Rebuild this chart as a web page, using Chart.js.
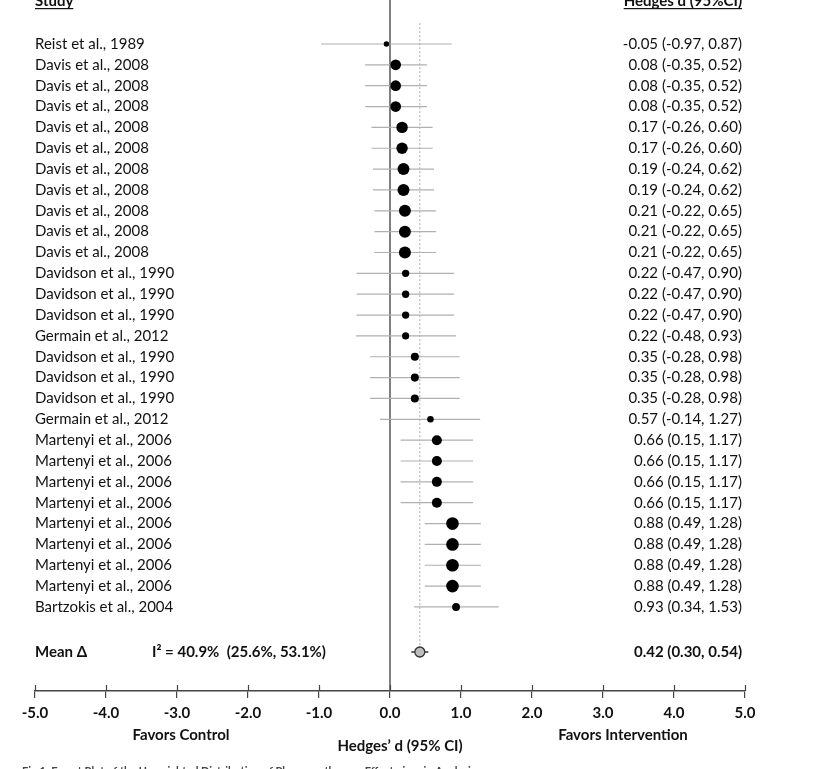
<!DOCTYPE html>
<html>
<head>
<meta charset="utf-8">
<script src="https://cdn.jsdelivr.net/npm/chart.js@4.4.1/dist/chart.umd.min.js"></script>
<style>
  html, body { margin: 0; padding: 0; background: #fff; }
</style>
</head>
<body>
<canvas id="forest" width="816" height="769"></canvas>
<script>
// study rows, top to bottom
const studies = [
  'Reist et al., 1989',
  'Davis et al., 2008', 'Davis et al., 2008', 'Davis et al., 2008',
  'Davis et al., 2008', 'Davis et al., 2008', 'Davis et al., 2008',
  'Davis et al., 2008', 'Davis et al., 2008', 'Davis et al., 2008',
  'Davis et al., 2008',
  'Davidson et al., 1990', 'Davidson et al., 1990', 'Davidson et al., 1990',
  'Germain et al., 2012',
  'Davidson et al., 1990', 'Davidson et al., 1990', 'Davidson et al., 1990',
  'Germain et al., 2012',
  'Martenyi et al., 2006', 'Martenyi et al., 2006', 'Martenyi et al., 2006',
  'Martenyi et al., 2006', 'Martenyi et al., 2006', 'Martenyi et al., 2006',
  'Martenyi et al., 2006', 'Martenyi et al., 2006',
  'Bartzokis et al., 2004'
]
const hedges = [-0.05, 0.08, 0.08, 0.08, 0.17, 0.17, 0.19, 0.19, 0.21, 0.21, 0.21,
  0.22, 0.22, 0.22, 0.22, 0.35, 0.35, 0.35, 0.57, 0.66, 0.66, 0.66, 0.66,
  0.88, 0.88, 0.88, 0.88, 0.93]
const ciLow = [-0.97, -0.35, -0.35, -0.35, -0.26, -0.26, -0.24, -0.24, -0.22, -0.22, -0.22,
  -0.47, -0.47, -0.47, -0.48, -0.28, -0.28, -0.28, -0.14, 0.15, 0.15, 0.15, 0.15,
  0.49, 0.49, 0.49, 0.49, 0.34]
const ciHigh = [0.87, 0.52, 0.52, 0.52, 0.60, 0.60, 0.62, 0.62, 0.65, 0.65, 0.65,
  0.90, 0.90, 0.90, 0.93, 0.98, 0.98, 0.98, 1.27, 1.17, 1.17, 1.17, 1.17,
  1.28, 1.28, 1.28, 1.28, 1.53]
// relative study weights (marker area)
const weights = [1.1, 4.2, 4.2, 4.2, 4.8, 4.8, 5.3, 5.3, 5.3, 5.3, 5.3,
  2.0, 2.0, 2.0, 1.9, 2.4, 2.4, 2.4, 1.6, 3.7, 3.7, 3.7, 3.7,
  5.9, 5.9, 5.9, 5.9, 2.3]

const meanD = 0.42
const meanLow = 0.30
const meanHigh = 0.54
const heterogeneity = 'I\u00B2 = 40.9%  (25.6%, 53.1%)'
const xTicks = [-5, -4, -3, -2, -1, 0, 1, 2, 3, 4, 5]

const meanRow = 29.16
const font = 'Lato, "Open Sans", sans-serif'

const fmt = v => v.toFixed(2)

let ciData = []
studies.forEach((s, i) => {
  ciData.push({x: ciLow[i], y: i}, {x: ciHigh[i], y: i}, {x: ciHigh[i], y: null})
})

const pointData = hedges.map((d, i) => ({x: d, y: i}))

const textPlugin = {
  id: 'forestText',
  beforeDatasetsDraw(chart) {
    const ctx = chart.ctx
    const x = chart.scales.x
    const y = chart.scales.y
    const area = chart.chartArea
    ctx.save()
    // line of no effect
    ctx.strokeStyle = '#555'
    ctx.lineWidth = 1.5
    ctx.beginPath()
    ctx.moveTo(x.getPixelForValue(0), area.top)
    ctx.lineTo(x.getPixelForValue(0), area.bottom)
    ctx.stroke()
    // dotted mean line
    ctx.strokeStyle = '#aaa'
    ctx.lineWidth = 1
    ctx.setLineDash([2, 2])
    ctx.beginPath()
    ctx.moveTo(x.getPixelForValue(meanD), y.getPixelForValue(-1.0))
    ctx.lineTo(x.getPixelForValue(meanD), y.getPixelForValue(meanRow))
    ctx.stroke()
    ctx.setLineDash([])
    // tick marks above the axis
    ctx.strokeStyle = '#444'
    ctx.lineWidth = 1.2
    xTicks.forEach(t => {
      const px = Math.round(x.getPixelForValue(t)) + 0.5
      ctx.beginPath()
      ctx.moveTo(px, area.bottom - 6)
      ctx.lineTo(px, area.bottom)
      ctx.stroke()
    })
    ctx.restore()
  },
  afterDraw(chart) {
    const ctx = chart.ctx
    const y = chart.scales.y
    const left = 35
    const right = 742
    ctx.save()
    ctx.fillStyle = '#111'
    ctx.textBaseline = 'middle'
    ctx.font = '15px ' + font
    studies.forEach((s, i) => {
      const py = y.getPixelForValue(i)
      ctx.textAlign = 'left'
      ctx.fillText(s, left, py)
      ctx.textAlign = 'right'
      ctx.fillText(fmt(hedges[i]) + ' (' + fmt(ciLow[i]) + ', ' + fmt(ciHigh[i]) + ')', right, py)
    })
    // mean row
    const my = y.getPixelForValue(meanRow)
    ctx.font = 'bold 15px ' + font
    ctx.textAlign = 'left'
    ctx.fillText('Mean \u0394', left, my)
    ctx.fillText(heterogeneity, 152, my)
    ctx.textAlign = 'right'
    ctx.fillText(fmt(meanD) + ' (' + fmt(meanLow) + ', ' + fmt(meanHigh) + ')', right, my)

    // headers (cut at top)
    ctx.textBaseline = 'alphabetic'
    ctx.textAlign = 'left'
    ctx.fillText('Study', left, 6)
    let w = ctx.measureText('Study').width
    ctx.fillRect(left, 8, w, 1.2)
    ctx.textAlign = 'right'
    ctx.fillText('Hedges d (95%CI)', right, 6)
    w = ctx.measureText('Hedges d (95%CI)').width
    ctx.fillRect(right - w, 8, w, 1.2)

    // bottom labels
    ctx.textBaseline = 'middle'
    ctx.textAlign = 'center'
    ctx.font = 'bold 15px ' + font
    ctx.fillText('Favors Control', 181, 735)
    ctx.fillText('Favors Intervention', 623, 735)
    ctx.fillText('Hedges\u2019 d (95% CI)', 400, 746)

    // caption, mostly below the picture edge
    ctx.fillStyle = '#444'
    ctx.textAlign = 'left'
    ctx.textBaseline = 'top'
    ctx.font = 'bold 11px ' + font
    ctx.fillText('Fig 1. Forest Plot of the Unweighted Distribution of Pharmacotherapy Effect-sizes in Analysis', 22, 766)
    ctx.restore()
  }
}

const chart = new Chart(document.getElementById('forest').getContext('2d'), {
  type: 'scatter',
  data: {
    datasets: [
      {
        data: pointData,
        backgroundColor: '#000',
        borderColor: '#000',
        borderWidth: 0,
        pointRadius: weights.map(w => 2.6 * Math.sqrt(w)),
        order: 1
      },
      {
        data: ciData,
        showLine: true,
        spanGaps: false,
        borderColor: '#b0b0b0',
        borderWidth: 1.2,
        pointRadius: 0,
        order: 3
      },
      {
        data: [{x: meanD, y: meanRow}],
        backgroundColor: '#bdbdbd',
        borderColor: '#333',
        borderWidth: 1.3,
        pointRadius: 5,
        order: 0
      },
      {
        data: [{x: meanLow, y: meanRow}, {x: meanHigh, y: meanRow}],
        showLine: true,
        borderColor: '#333',
        borderWidth: 1.5,
        pointRadius: 0,
        order: 2
      }
    ]
  },
  options: {
    responsive: false,
    animation: false,
    devicePixelRatio: 1,
    layout: { autoPadding: false, padding: { left: 35, right: 71, top: 0, bottom: 0 } },
    plugins: { legend: { display: false }, tooltip: { enabled: false } },
    scales: {
      x: {
        type: 'linear',
        min: -5,
        max: 5,
        afterBuildTicks: s => { s.ticks = xTicks.map(v => ({value: v})) },
        afterFit: s => { s.height = 78 },
        ticks: {
          callback: v => v.toFixed(1),
          color: '#111',
          padding: 6,
          maxRotation: 0,
          font: { family: font, size: 15, weight: 'bold' }
        },
        grid: { drawOnChartArea: false, tickLength: 7, color: '#444', lineWidth: 1.2 },
        border: { color: '#444', width: 1.5 }
      },
      y: {
        type: 'linear',
        min: -2.11,
        max: 31.03,
        reverse: true,
        display: false
      }
    }
  },
  plugins: [textPlugin]
})
</script>
</body>
</html>
